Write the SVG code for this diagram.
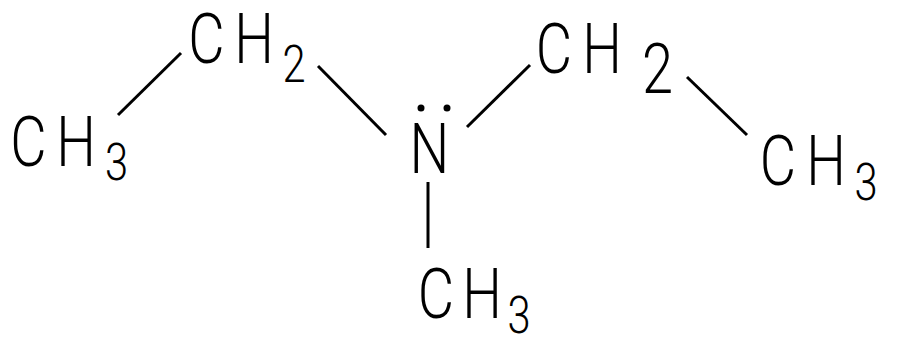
<svg xmlns="http://www.w3.org/2000/svg" width="900" height="353" viewBox="0 0 900 353">
<style>
.t{font-family:Roboto,"Liberation Sans",sans-serif;font-weight:300;font-size:70px;fill:#000;text-anchor:middle}
.s{font-size:52px}
.b{stroke:#000;stroke-width:3;fill:none;stroke-linecap:butt}
</style>
<rect width="900" height="353" fill="#fff"/>
<g id="bonds">
<line class="b" x1="118" y1="115" x2="181" y2="53"/>
<line class="b" x1="318" y1="66" x2="386" y2="135"/>
<line class="b" x1="467" y1="127" x2="530" y2="65"/>
<line class="b" x1="687" y1="77" x2="747" y2="135"/>
<line class="b" x1="428" y1="182" x2="428" y2="248"/>
</g>
<g id="ch3-left"><text class="t" transform="scale(0.8,1)"><tspan x="35.6" y="166">C</tspan><tspan x="95" y="166">H</tspan><tspan class="s" x="145.6" y="180">3</tspan></text></g>
<g id="ch2-left"><text class="t" transform="scale(0.8,1)"><tspan x="258.1" y="63">C</tspan><tspan x="317.5" y="63">H</tspan><tspan class="s" x="367.5" y="82">2</tspan></text></g>
<g id="n"><text class="t" transform="scale(0.8,1)"><tspan x="536.9" y="173">N</tspan></text><circle cx="421" cy="108" r="3.5"/><circle cx="447" cy="108" r="3.5"/></g>
<g id="ch2-right"><text class="t" transform="scale(0.8,1)"><tspan x="692.5" y="73">C</tspan><tspan x="752.5" y="73">H</tspan><tspan x="821.9" y="93">2</tspan></text></g>
<g id="ch3-right"><text class="t" transform="scale(0.8,1)"><tspan x="972.5" y="185">C</tspan><tspan x="1032.5" y="185">H</tspan><tspan class="s" x="1082.5" y="200">3</tspan></text></g>
<g id="ch3-bottom"><text class="t" transform="scale(0.8,1)"><tspan x="545" y="318">C</tspan><tspan x="602.5" y="318">H</tspan><tspan class="s" x="648.75" y="333">3</tspan></text></g>
</svg>
